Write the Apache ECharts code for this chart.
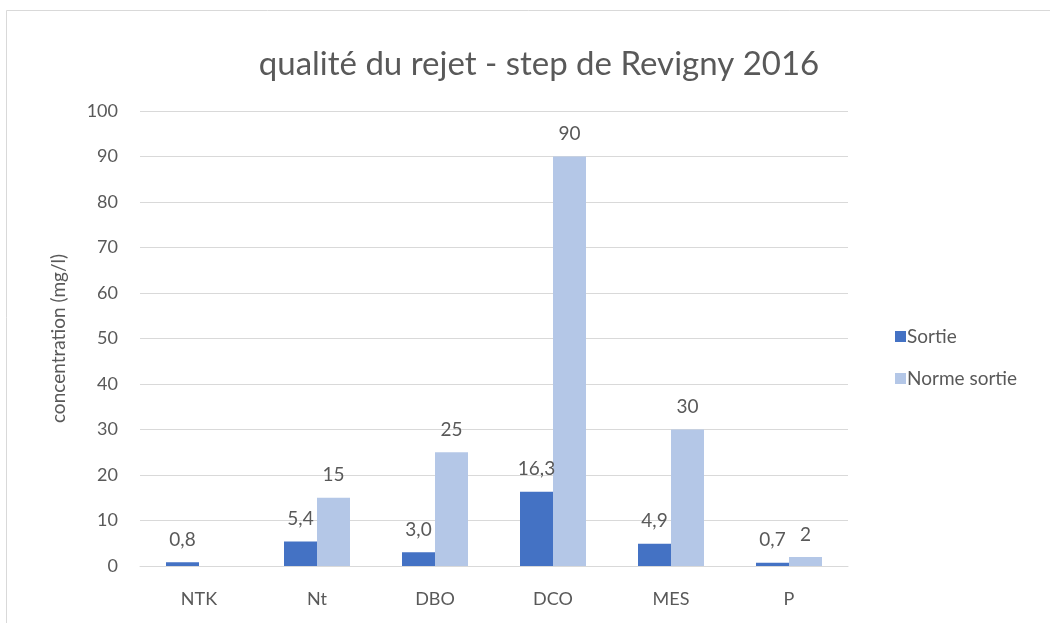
<!DOCTYPE html>
<html>
<head>
<meta charset="utf-8">
<script src="https://cdn.jsdelivr.net/npm/echarts@6/dist/echarts.min.js"></script>
<style>
html,body{margin:0;padding:0;background:#fff;}
#chart{width:1050px;height:623px;}
</style>
</head>
<body>
<div id="chart"></div>
<script>
const categories = ['NTK', 'Nt', 'DBO', 'DCO', 'MES', 'P'];
const sortie = [0.8, 5.4, 3.0, 16.3, 4.9, 0.7];
const normeSortie = [null, 15, 25, 90, 30, 2];
const yTicks = [0, 10, 20, 30, 40, 50, 60, 70, 80, 90, 100];

const FONT = 'Lato, "Open Sans", sans-serif';
const TXT = '#595959';

const chart = echarts.init(document.getElementById('chart'), null, {renderer: 'canvas'});
chart.setOption({
  backgroundColor: '#fff',
  animation: false,
  graphic: [{
    type: 'rect', silent: true,
    shape: {x: 6.5, y: 10.5, width: 1060, height: 640},
    style: {fill: 'none', stroke: '#d9d9d9', lineWidth: 1}
  }],
  title: {
    text: 'qualité du rejet - step de Revigny 2016',
    left: 534, top: 43, textAlign: 'center',
    textStyle: {fontFamily: FONT, fontSize: 33, fontWeight: 'normal', color: TXT}
  },
  legend: {
    orient: 'vertical', left: 890, top: 322, itemGap: 23,
    itemWidth: 11, itemHeight: 11, icon: 'rect',
    textStyle: {fontFamily: FONT, fontSize: 19, color: TXT, padding: [0, 0, 0, -4]},
    data: ['Sortie', 'Norme sortie']
  },
  grid: {left: 140, right: 202, top: 111, bottom: 57},
  xAxis: {
    type: 'category', data: categories,
    axisLine: {lineStyle: {color: '#d9d9d9'}},
    axisTick: {show: false},
    axisLabel: {fontFamily: FONT, fontSize: 18, color: TXT, margin: 24}
  },
  yAxis: {
    type: 'value', min: yTicks[0], max: yTicks[yTicks.length - 1], interval: 10,
    name: 'concentration (mg/l)', nameLocation: 'middle', nameGap: 72, nameRotate: 90,
    nameTextStyle: {fontFamily: FONT, fontSize: 19, color: TXT},
    axisLine: {show: false}, axisTick: {show: false},
    splitLine: {lineStyle: {color: '#d9d9d9'}},
    axisLabel: {fontFamily: FONT, fontSize: 18, color: TXT, margin: 22}
  },
  series: [{
    name: 'Sortie', type: 'bar', data: sortie, barWidth: 33, barGap: '0%',
    itemStyle: {color: '#4472C4'},
    label: {show: true, position: 'top', distance: 13, fontFamily: FONT, fontSize: 19, color: TXT,
      formatter: p => p.value.toFixed(1).replace('.', ',')}
  }, {
    name: 'Norme sortie', type: 'bar', data: normeSortie, barWidth: 33,
    itemStyle: {color: '#B4C7E7'},
    label: {show: true, position: 'top', distance: 13, fontFamily: FONT, fontSize: 19, color: TXT,
      formatter: p => String(p.value)}
  }]
});
</script>
</body>
</html>
